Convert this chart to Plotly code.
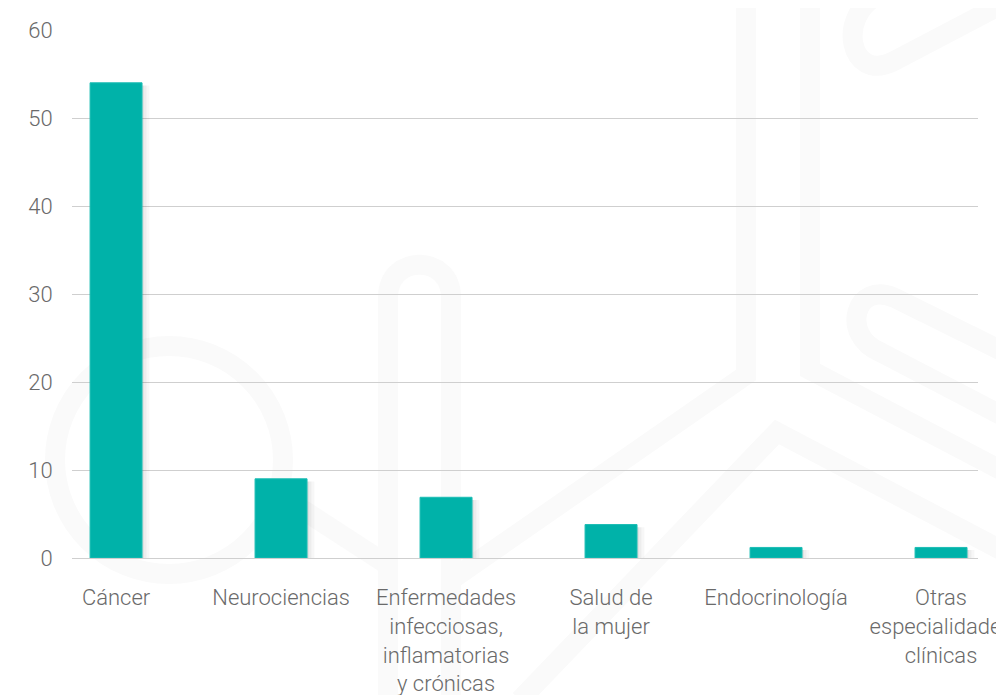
import plotly.graph_objects as go

categories = [
    "Cáncer",
    "Neurociencias",
    "Enfermedades<br>infecciosas,<br>inflamatorias<br>y crónicas",
    "Salud de<br>la mujer",
    "Endocrinología",
    "Otras<br>especialidades<br>clínicas",
]
values = [54, 9, 6.9, 3.8, 1.2, 1.2]
y_ticks = [0, 10, 20, 30, 40, 50, 60]

TEAL = "#00b2a9"
TEXT = "#6a6a6a"
FONT = "Roboto, 'Open Sans', sans-serif"

# the page puts the figure 8px in from the top-left corner
W, H = 1004, 695
L, R, T, B = 64, 970, 22, 550


def px(x, y):
    # window pixels -> paper coords (watermark only)
    x, y = x - 8, y - 8
    return (x - L) / (R - L), (B - y) / (B - T)


def path(points):
    out = []
    for cmd, pts in points:
        coords = " ".join("%.4f,%.4f" % px(*p) for p in pts)
        out.append(cmd + coords)
    return " ".join(out)


WM = "#fafafa"
WM_W = 20
watermark = [
    # ring at left
    dict(type="circle", x0=px(55, 0)[0], x1=px(283, 0)[0], y0=px(0, 346)[1], y1=px(0, 574)[1]),
    # arch
    dict(type="path", path=path([("M", [(388, 720)]), ("L", [(388, 297)]),
                                 ("C", [(388, 254), (451, 254), (451, 297)]), ("L", [(451, 720)])])),
    # diagonal from ring toward arch
    dict(type="path", path=path([("M", [(280, 495)]), ("L", [(388, 565)])])),
    # left vertical with diagonal
    dict(type="path", path=path([("M", [(746, -20)]), ("L", [(746, 375)]), ("L", [(451, 580)])])),
    # right vertical with diagonal
    dict(type="path", path=path([("M", [(810, -20)]), ("L", [(810, 370)]), ("L", [(1020, 480)])])),
    # chevron
    dict(type="path", path=path([("M", [(520, 700)]), ("L", [(777, 432)]), ("L", [(1020, 560)])])),
    # hairpin bottom right
    dict(type="path", path=path([("M", [(1020, 360)]), ("L", [(895, 298)]),
                                 ("C", [(855, 280), (840, 335), (880, 352)]), ("L", [(1020, 425)])])),
    # hairpin top right
    dict(type="path", path=path([("M", [(1020, -5)]), ("L", [(892, 62)]),
                                 ("C", [(850, 82), (835, 16), (880, -6)]), ("L", [(925, -30)])])),
]
shapes = []
for s in watermark:
    s.update(xref="paper", yref="paper", layer="below",
             line=dict(color=WM, width=WM_W))
    shapes.append(s)

fig = go.Figure()

# soft drop shadow behind the bars
for dx, alpha in [(0.03, 0.03), (0.018, 0.04), (0.008, 0.05)]:
    fig.add_trace(go.Bar(
        x=categories,
        y=[v + 0.3 for v in values],
        base=-0.6,
        width=0.315 + dx,
        offset=-0.1575 + dx / 2,
        marker=dict(color="rgba(0,0,0,%s)" % alpha, line_width=0),
        hoverinfo="skip",
        showlegend=False,
    ))

fig.add_trace(go.Bar(
    x=categories,
    y=values,
    width=0.315,
    marker=dict(color=TEAL, line=dict(color="#1cbdb4", width=1)),
    showlegend=False,
))

fig.update_layout(
    width=W,
    height=H,
    barmode="overlay",
    margin=dict(l=L, r=W - R, t=T, b=H - B),
    paper_bgcolor="white",
    plot_bgcolor="rgba(0,0,0,0)",
    font=dict(family=FONT, size=22, color=TEXT, weight=300),
    shapes=shapes,
    xaxis=dict(
        range=[-0.267, 5.224],
        automargin=False,
        showgrid=False,
        showline=False,
        zeroline=False,
        ticks="outside",
        ticklen=20,
        tickcolor="rgba(0,0,0,0)",
        tickfont=dict(size=22, color=TEXT),
        tickangle=0,
    ),
    yaxis=dict(
        range=[0, 60],
        automargin=False,
        tickvals=y_ticks,
        showgrid=True,
        gridcolor="#cfcfcf",
        gridwidth=1,
        zeroline=True,
        zerolinecolor="#cfcfcf",
        zerolinewidth=1,
        showline=False,
        ticks="outside",
        ticklen=14,
        tickcolor="rgba(0,0,0,0)",
        tickfont=dict(size=22, color=TEXT),
    ),
)

fig.write_html("out.html")
